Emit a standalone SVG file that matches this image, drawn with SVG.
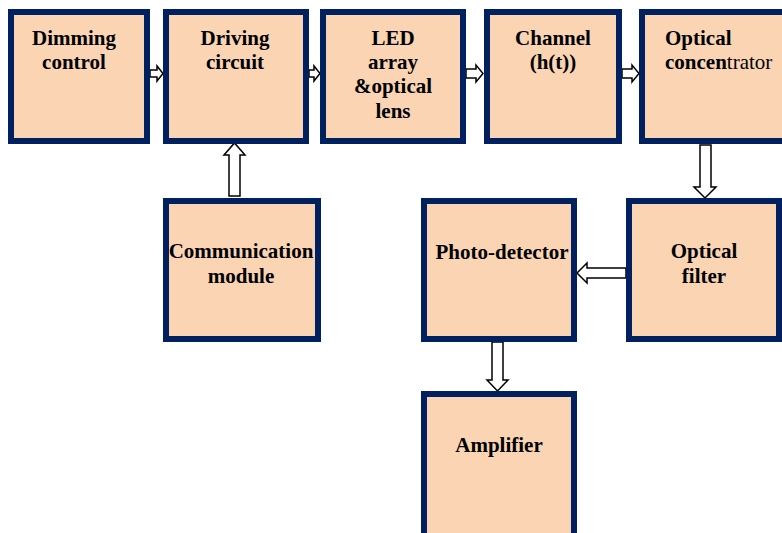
<svg xmlns="http://www.w3.org/2000/svg" width="782" height="533" viewBox="0 0 782 533">
<style>
.box{fill:#FBD4B4;stroke:#002060;stroke-width:6}
.t{font-family:"Liberation Serif","Times New Roman",serif;font-size:21px;font-weight:bold;fill:#000;text-anchor:middle}
.arr{fill:#fff;stroke:#000;stroke-width:1.5;stroke-linejoin:miter}
</style>
<rect width="782" height="533" fill="#fff"/>
<g id="connectors">
<path class="arr" d="M150,70 H157 V66 L163,73.5 L157,81 V77 H150 Z"/>
<path class="arr" d="M309,70 H314 V66 L320,73.5 L314,81 V77 H309 Z"/>
<path class="arr" d="M466,69 H476 V65 L483,73.5 L476,82 V78 H466 Z"/>
<path class="arr" d="M622,69 H632 V65 L639,73.5 L632,82 V78 H622 Z"/>
<path class="arr" d="M229,196 V155 H224 L234.5,143 L245,155 H240 V196 Z"/>
<path class="arr" d="M700,145 V187 H694 L705,198 L716,187 H711 V145 Z"/>
<path class="arr" d="M626,268 H587 V263 L577,273 L587,283 V278 H626 Z"/>
<path class="arr" d="M492,342 V380 H487 L497.5,391 L508,380 H503 V342 Z"/>
</g>
<g id="dimming"><rect class="box" x="11" y="12" width="136" height="129"/><text class="t" x="74" y="45">Dimming</text><text class="t" x="74" y="69">control</text></g>
<g id="driving"><rect class="box" x="166" y="12" width="140" height="129"/><text class="t" x="235" y="45">Driving</text><text class="t" x="235" y="69">circuit</text></g>
<g id="led"><rect class="box" x="323" y="12" width="140" height="129"/><text class="t" x="393" y="45">LED</text><text class="t" x="393" y="69">array</text><text class="t" x="393" y="93">&amp;optical</text><text class="t" x="393" y="118">lens</text></g>
<g id="channel"><rect class="box" x="487" y="12" width="132" height="129"/><text class="t" x="553" y="45">Channel</text><text class="t" x="553" y="69">(h(t))</text></g>
<g id="concentrator"><rect class="box" x="642" y="12" width="150" height="129"/><text class="t" x="665" y="45" style="text-anchor:start">Optical</text><text class="t" x="665" y="69" style="text-anchor:start">concen<tspan font-weight="normal">trator</tspan></text></g>
<g id="communication"><rect class="box" x="166" y="201" width="152" height="138"/><text class="t" x="241" y="258">Communication</text><text class="t" x="241" y="283">module</text></g>
<g id="photodetector"><rect class="box" x="424" y="201" width="150" height="138"/><text class="t" x="502" y="259">Photo-detector</text></g>
<g id="filter"><rect class="box" x="629" y="201" width="150" height="138"/><text class="t" x="704" y="258">Optical</text><text class="t" x="704" y="283">filter</text></g>
<g id="amplifier"><rect class="box" x="424" y="394" width="150" height="150"/><text class="t" x="499" y="452">Amplifier</text></g>
</svg>
